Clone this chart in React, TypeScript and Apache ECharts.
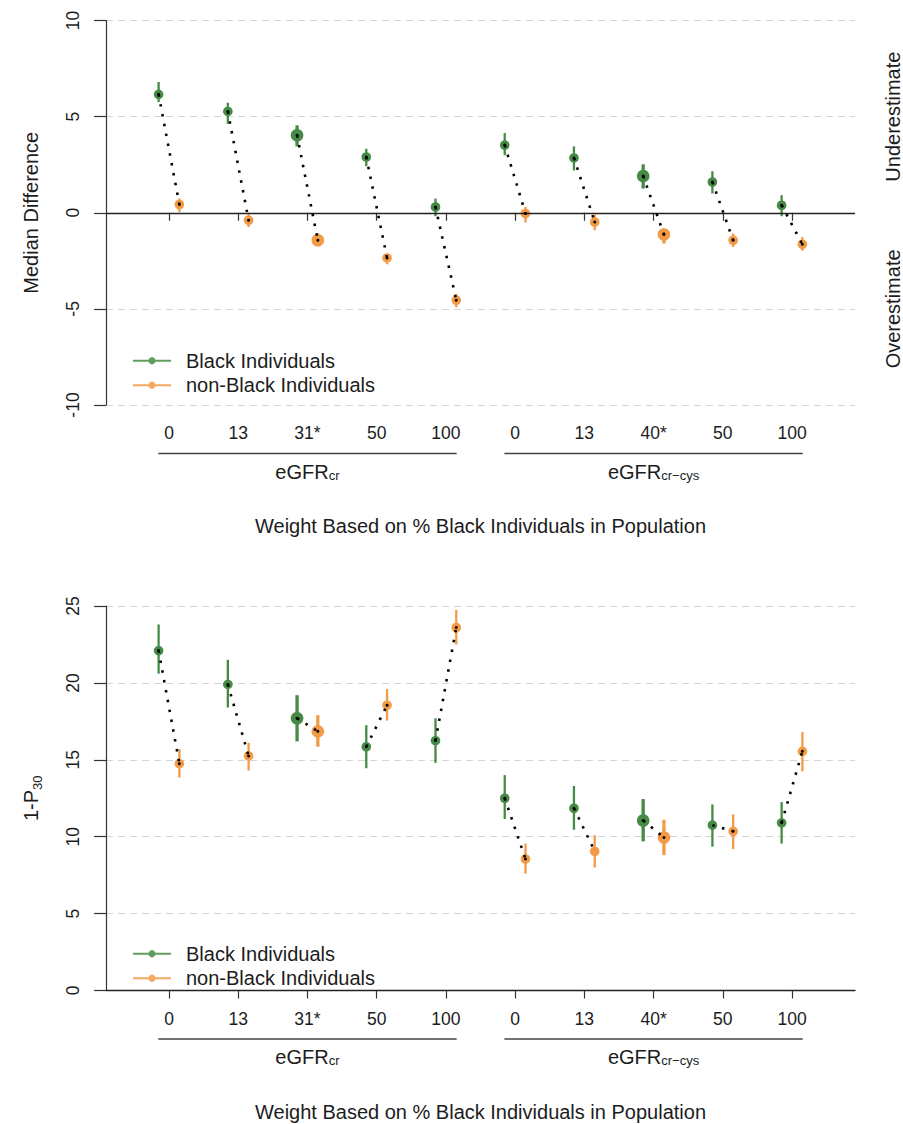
import React, { useEffect, useRef } from "react";
import * as echarts from "echarts";

// ---------- data ----------
const positions = [1, 2, 3, 4, 5, 6, 7, 8, 9, 10];
const weightLabels = ["0", "13", "31*", "50", "100", "0", "13", "40*", "50", "100"];
const highlighted = [false, false, true, false, false, false, false, true, false, false];
const groupMain = ["eGFR", "eGFR"];
const groupSub = ["cr", "cr\u2212cys"];
const groupFrom = [1, 6];
const groupTo = [5, 10];

// Panel 1: median difference
const mdBlack = [6.16, 5.27, 4.03, 2.9, 0.3, 3.52, 2.85, 1.91, 1.6, 0.39];
const mdBlackLo = [5.76, 4.63, 3.45, 2.42, -0.18, 2.99, 2.2, 1.26, 1.0, -0.18];
const mdBlackHi = [6.8, 5.72, 4.55, 3.33, 0.74, 4.15, 3.45, 2.52, 2.16, 0.91];
const mdNonBlack = [0.43, -0.39, -1.43, -2.35, -4.55, -0.04, -0.48, -1.13, -1.43, -1.64];
const mdNonBlackLo = [0.04, -0.74, -1.74, -2.68, -4.92, -0.51, -0.91, -1.6, -1.78, -1.98];
const mdNonBlackHi = [0.74, -0.04, -1.08, -2.12, -4.23, 0.3, -0.09, -0.82, -1.08, -1.26];

// Panel 2: 1-P30
const pBlack = [22.1, 19.9, 17.7, 15.85, 16.25, 12.5, 11.85, 11.05, 10.75, 10.9];
const pBlackLo = [20.6, 18.4, 16.2, 14.45, 14.8, 11.15, 10.45, 9.7, 9.35, 9.55];
const pBlackHi = [23.8, 21.5, 19.2, 17.25, 17.7, 14.0, 13.3, 12.45, 12.1, 12.25];
const pNonBlack = [14.75, 15.25, 16.85, 18.55, 23.6, 8.55, 9.05, 9.95, 10.35, 15.55];
const pNonBlackLo = [13.85, 14.3, 15.85, 17.55, 22.5, 7.6, 8.0, 8.8, 9.2, 14.25];
const pNonBlackHi = [15.7, 16.1, 17.9, 19.6, 24.75, 9.55, 10.1, 11.1, 11.45, 16.8];

const mdTicks = [-10, 10, 5];
const pTicks = [0, 25, 5];
const sideLabelValues = [5, -5];
const sideLabels = ["Underestimate", "Overestimate"];

const xTitle = "Weight Based on % Black Individuals in Population";
const seriesNames = ["Black Individuals", "non-Black Individuals"];

// ---------- style ----------
const FONT = "'Liberation Sans', Arial, Helvetica, sans-serif";
const GREEN = "#458A45";
const ORANGE = "#F29A45";
const GREEN_L = "#5E9F5E";
const ORANGE_L = "#F5A95F";
const TXT = "#1c1c1c";
const AX = "#333333";
const OFF = 0.15;
const BIG = 20;

function pointSeries(gi: number, xs: number[], ys: number[], lo: number[], hi: number[], color: string, offset: number) {
  return {
    type: "custom",
    xAxisIndex: gi,
    yAxisIndex: gi === 0 ? 0 : 2,
    z: 3,
    silent: true,
    encode: { x: 0, y: 1 },
    data: xs.map((x, i) => [x + offset, ys[i], lo[i], hi[i], highlighted[i] ? 1 : 0]),
    renderItem: (params: any, api: any) => {
      const x = api.value(0);
      const big = api.value(4) === 1;
      const p = api.coord([x, api.value(1)]);
      const pl = api.coord([x, api.value(2)]);
      const ph = api.coord([x, api.value(3)]);
      return {
        type: "group",
        children: [
          {
            type: "line",
            shape: { x1: pl[0], y1: pl[1], x2: ph[0], y2: ph[1] },
            style: { stroke: color, lineWidth: big ? 3.3 : 2.3 },
          },
          {
            type: "circle",
            shape: { cx: p[0], cy: p[1], r: big ? 6.3 : 4.8 },
            style: { fill: color },
          },
        ],
      };
    },
  };
}

function connectorSeries(gi: number, ys1: number[], ys2: number[], withZeroLine: boolean) {
  const s: any = {
    type: "custom",
    xAxisIndex: gi,
    yAxisIndex: gi === 0 ? 0 : 2,
    z: 5,
    silent: true,
    encode: { x: 0, y: 1 },
    data: positions.map((x, i) => [x - OFF, ys1[i], x + OFF, ys2[i]]),
    renderItem: (params: any, api: any) => {
      const a = api.coord([api.value(0), api.value(1)]);
      const b = api.coord([api.value(2), api.value(3)]);
      return {
        type: "group",
        children: [
          {
            type: "line",
            shape: { x1: a[0], y1: a[1], x2: b[0], y2: b[1] },
            style: { stroke: "#000", lineWidth: 2.6, lineDash: [2.5, 7.5] },
          },
          { type: "circle", shape: { cx: a[0], cy: a[1], r: 1.5 }, style: { fill: "#000" } },
          { type: "circle", shape: { cx: b[0], cy: b[1], r: 1.5 }, style: { fill: "#000" } },
        ],
      };
    },
  };
  if (withZeroLine) {
    s.markLine = {
      silent: true,
      symbol: "none",
      label: { show: false },
      lineStyle: { color: "#222", type: "solid", width: 1.3 },
      data: [{ yAxis: 0 }],
    };
  }
  return s;
}

function groupSeries(gi: number, yMin: number) {
  return {
    type: "custom",
    xAxisIndex: gi,
    yAxisIndex: gi === 0 ? 0 : 2,
    silent: true,
    clip: false,
    data: groupFrom.map((f, i) => [f, groupTo[i]]),
    renderItem: (params: any, api: any) => {
      const a = api.coord([api.value(0) - 0.155, yMin]);
      const b = api.coord([api.value(1) + 0.155, yMin]);
      const y = a[1] + 48.5;
      const i = params.dataIndex;
      return {
        type: "group",
        children: [
          {
            type: "line",
            shape: { x1: a[0], y1: y, x2: b[0], y2: y },
            style: { stroke: "#444", lineWidth: 1.3 },
          },
          {
            type: "text",
            x: (a[0] + b[0]) / 2,
            y: y + 15,
            style: {
              text: "{m|" + groupMain[i] + "}{s|" + groupSub[i] + "}",
              align: "center",
              verticalAlign: "middle",
              fill: TXT,
              rich: {
                m: { fontSize: BIG, lineHeight: 26, fontFamily: FONT, fill: TXT, verticalAlign: "bottom" },
                s: { fontSize: 13, lineHeight: 13, fontFamily: FONT, fill: TXT, verticalAlign: "bottom" },
              },
            },
          },
        ],
      };
    },
  };
}

function legendCfg(top: number) {
  return {
    orient: "vertical",
    left: 132,
    top,
    padding: 0,
    itemWidth: 38,
    itemHeight: 9,
    itemGap: 3,
    selectedMode: false,
    data: seriesNames,
    textStyle: { fontSize: BIG, color: TXT, fontFamily: FONT, lineHeight: 21.5, padding: [0, 0, 0, 10] },
  };
}

function xAxisCfg(gi: number) {
  return {
    type: "value",
    gridIndex: gi,
    min: 0.09,
    max: 10.91,
    axisLine: { show: gi === 1, lineStyle: { color: "#222", width: 1.3 } },
    axisTick: { show: true, length: 8, customValues: positions, lineStyle: { color: AX, width: 1.2 } },
    axisLabel: {
      customValues: positions,
      formatter: (v: number) => weightLabels[Math.round(v) - 1],
      fontSize: 17.5,
      color: TXT,
      fontFamily: FONT,
      margin: 19,
    },
    splitLine: { show: false },
    name: xTitle,
    nameLocation: "middle",
    nameGap: 111,
    nameTextStyle: { fontSize: BIG, color: TXT, fontFamily: FONT },
  };
}

function yAxisCfg(gi: number, ticks: number[], name: string) {
  return {
    type: "value",
    gridIndex: gi,
    min: ticks[0],
    max: ticks[1],
    interval: ticks[2],
    axisLine: { show: true, lineStyle: { color: AX, width: 1.2 } },
    axisTick: { show: true, length: 12, lineStyle: { color: AX, width: 1.2 } },
    axisLabel: { rotate: 90, fontSize: 17.5, color: TXT, fontFamily: FONT, margin: 24 },
    splitLine: { show: true, lineStyle: { type: [7, 5], color: "#d4d4d4", width: 1 } },
    name,
    nameLocation: "middle",
    nameRotate: 90,
    nameGap: 62,
    nameTextStyle: {
      fontSize: BIG,
      color: TXT,
      fontFamily: FONT,
      lineHeight: 26,
      rich: { s: { fontSize: 13, lineHeight: 13, fontFamily: FONT, color: TXT, verticalAlign: "bottom" } },
    },
  };
}

export default function App() {
  const ref = useRef<HTMLDivElement>(null);
  useEffect(() => {
    if (!ref.current) return;
    const chart = echarts.init(ref.current, undefined, { renderer: "svg" });
    const option: any = {
      animation: false,
      backgroundColor: "#ffffff",
      textStyle: { fontFamily: FONT },
      grid: [
        { left: 106, top: 20.5, width: 749, height: 384.5 },
        { left: 106, top: 606, width: 749, height: 384.5 },
      ],
      legend: [legendCfg(350), legendCfg(943)],
      xAxis: [xAxisCfg(0), xAxisCfg(1)],
      yAxis: [
        yAxisCfg(0, mdTicks, "Median Difference"),
        {
          type: "value",
          gridIndex: 0,
          position: "right",
          min: mdTicks[0],
          max: mdTicks[1],
          axisLine: { show: false },
          axisTick: { show: false },
          splitLine: { show: false },
          axisLabel: {
            customValues: sideLabelValues,
            formatter: (v: number) => sideLabels[sideLabelValues.indexOf(v)],
            rotate: 90,
            fontSize: BIG,
            color: TXT,
            fontFamily: FONT,
            margin: 28,
          },
        },
        yAxisCfg(1, pTicks, "1-P{s|30}"),
      ],
      series: [
        {
          type: "line",
          name: seriesNames[0],
          xAxisIndex: 0,
          yAxisIndex: 0,
          data: [],
          symbol: "circle",
          symbolSize: 7,
          itemStyle: { color: GREEN_L },
          lineStyle: { color: GREEN_L, width: 2.2 },
        },
        {
          type: "line",
          name: seriesNames[1],
          xAxisIndex: 0,
          yAxisIndex: 0,
          data: [],
          symbol: "circle",
          symbolSize: 7,
          itemStyle: { color: ORANGE_L },
          lineStyle: { color: ORANGE_L, width: 2.2 },
        },
        pointSeries(0, positions, mdBlack, mdBlackLo, mdBlackHi, GREEN, -OFF),
        pointSeries(0, positions, mdNonBlack, mdNonBlackLo, mdNonBlackHi, ORANGE, OFF),
        connectorSeries(0, mdBlack, mdNonBlack, true),
        groupSeries(0, mdTicks[0]),
        pointSeries(1, positions, pBlack, pBlackLo, pBlackHi, GREEN, -OFF),
        pointSeries(1, positions, pNonBlack, pNonBlackLo, pNonBlackHi, ORANGE, OFF),
        connectorSeries(1, pBlack, pNonBlack, false),
        groupSeries(1, pTicks[0]),
      ],
    };
    chart.setOption(option);
    return () => chart.dispose();
  }, []);
  return (
    <div
      ref={ref}
      style={{ position: "absolute", left: 0, top: 0, width: 903, height: 1124, background: "#fff" }}
    />
  );
}
